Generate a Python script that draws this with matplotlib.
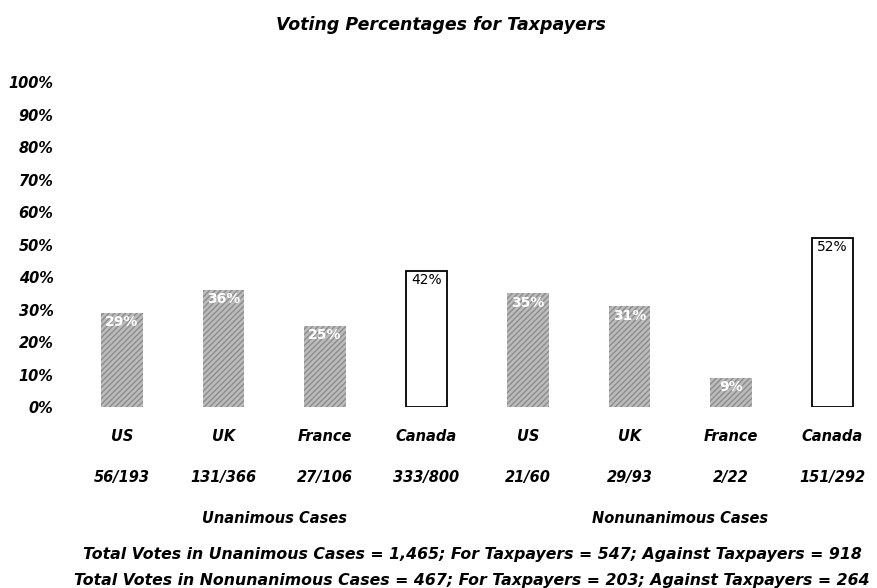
import numpy as np
import matplotlib
matplotlib.use("Agg")
import matplotlib.pyplot as plt
from matplotlib.transforms import blended_transform_factory

# Datos del gráfico
countries = ["US", "UK", "France", "Canada", "US", "UK", "France", "Canada"]
fractions = ["56/193", "131/366", "27/106", "333/800",
             "21/60", "29/93", "2/22", "151/292"]
pct_values = [29, 36, 25, 42, 35, 31, 9, 52]
pct_labels = ["29%", "36%", "25%", "42%", "35%", "31%", "9%", "52%"]
groups = ["Unanimous Cases", "Nonunanimous Cases"]
footer = ["Total Votes in Unanimous Cases = 1,465; For Taxpayers = 547; Against Taxpayers = 918",
          "Total Votes in Nonunanimous Cases = 467; For Taxpayers = 203; Against Taxpayers = 264"]
yticks = [0, 10, 20, 30, 40, 50, 60, 70, 80, 90, 100]

bold_it = dict(fontweight="bold", fontstyle="italic", family="DejaVu Sans")

fig = plt.figure(figsize=(8.77, 5.88), dpi=100)
ax = fig.add_axes([0.0928, 0.3078, 0.9027, 0.5527])

x = np.arange(len(countries))
for i, v in enumerate(pct_values):
    if countries[i] == "Canada":
        ax.bar(x[i], v, width=0.41, facecolor="white", edgecolor="black", linewidth=1.3)
        ax.text(x[i], v - 2.9, pct_labels[i], ha="center", va="center",
                fontsize=10, color="black")
    else:
        ax.bar(x[i], v, width=0.41, facecolor="#bcbcbc", edgecolor="#8c8c8c",
               hatch="//////", linewidth=0)
        ax.text(x[i], v - 2.9, pct_labels[i], ha="center", va="center",
                fontsize=10, color="white", fontweight="bold")

ax.set_xlim(-0.4, 7.4)
ax.set_ylim(0, 100)
ax.set_yticks(yticks)
ax.set_yticklabels([f"{t}%" for t in yticks], fontsize=10.5, **bold_it)
ax.tick_params(axis="y", length=0, pad=20)
ax.set_xticks([])
for s in ax.spines.values():
    s.set_visible(False)

# Etiquetas inferiores
trans = blended_transform_factory(ax.transData, ax.transAxes)
for i in range(len(countries)):
    ax.text(x[i], -0.092, countries[i], transform=trans, ha="center", va="center",
            fontsize=10.5, **bold_it)
    ax.text(x[i], -0.218, fractions[i], transform=trans, ha="center", va="center",
            fontsize=10.5, **bold_it)
ax.text(1.5, -0.342, groups[0], transform=trans, ha="center", va="center",
        fontsize=10.5, **bold_it)
ax.text(5.5, -0.342, groups[1], transform=trans, ha="center", va="center",
        fontsize=10.5, **bold_it)

fig.text(472 / 877, 1 - 555 / 588, footer[0], ha="center", va="center", fontsize=11.3, **bold_it)
fig.text(472 / 877, 1 - 580 / 588, footer[1], ha="center", va="center", fontsize=11.3, **bold_it)

fig.text(441 / 877, 1 - 25 / 588, "Voting Percentages for Taxpayers", ha="center", va="center",
         fontsize=12.5, **bold_it)

fig.savefig("out.png", dpi=100)
